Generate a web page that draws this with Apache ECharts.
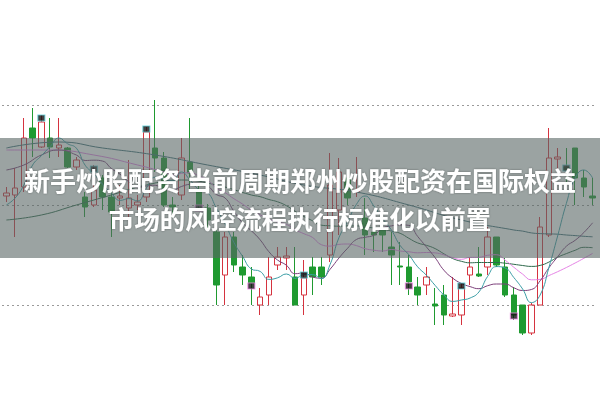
<!DOCTYPE html>
<html>
<head>
<meta charset="utf-8">
<script src="https://cdn.jsdelivr.net/npm/echarts@6/dist/echarts.min.js"></script>
<style>
html,body{margin:0;padding:0;background:#fff;}
#chart{width:600px;height:399px;}
</style>
</head>
<body>
<div id="chart"></div>
<script>
// ---- data (price units) ----
const categories = Array.from({length: 68}, (_, i) => 'D' + (i + 1));
// [open, close, low, high]
const candles = [
  [11.09,11.12,11.03,11.18],[11.10,11.17,10.68,11.37],[11.18,11.67,11.13,11.87],[11.77,11.67,11.48,11.97],
  [11.58,11.83,11.57,11.90],[11.67,11.58,11.47,11.87],[11.57,11.60,11.48,11.87],[11.57,11.38,11.37,11.58],
  [11.38,11.45,11.35,11.48],[11.08,10.98,10.88,11.13],[11.00,11.15,10.98,11.40],[11.27,11.08,10.95,11.30],
  [11.08,10.93,10.68,11.13],[11.07,11.09,11.00,11.20],[10.97,11.07,10.87,11.45],[11.00,11.03,10.95,11.10],
  [11.08,11.73,11.03,11.78],[11.57,11.47,11.33,12.05],[11.47,11.00,10.98,11.53],[11.00,10.98,10.87,11.08],
  [11.10,11.47,11.05,11.67],[11.43,11.32,11.13,11.87],[11.13,11.00,10.97,11.22],[10.97,10.85,10.75,11.01],
  [10.73,10.20,10.00,10.82],[10.30,10.68,10.00,10.73],[10.68,10.40,10.33,10.73],[10.38,10.30,10.20,10.50],
  [10.28,10.22,10.00,10.38],[10.00,10.08,9.90,10.17],[10.10,10.28,10.00,10.48],[10.40,10.48,10.35,10.58],
  [10.47,10.49,10.35,10.58],[10.28,10.00,10.00,10.58],[10.10,10.27,9.90,10.45],[10.38,10.28,10.10,10.48],
  [10.38,10.28,10.20,10.48],[10.50,11.20,10.43,11.52],[10.95,11.33,10.70,11.47],[11.27,11.07,11.00,11.30],
  [11.13,11.15,11.08,11.48],[10.87,10.70,10.50,11.07],[10.73,10.70,10.53,10.77],[10.75,10.70,10.53,10.80],
  [10.58,10.50,10.20,10.73],[10.39,10.38,10.20,10.63],[10.38,10.23,10.10,10.50],[10.18,10.10,10.00,10.28],
  [10.20,10.28,10.10,10.38],[10.01,9.99,9.80,10.17],[10.10,9.90,9.80,10.20],[9.89,9.91,9.88,10.28],
  [9.90,10.17,9.80,10.22],[10.30,10.38,10.20,10.48],[10.31,10.29,10.28,10.58],[10.38,10.68,10.30,10.78],
  [10.68,10.40,10.38,10.68],[10.38,10.10,10.08,10.47],[10.10,9.90,9.85,10.18],[10.00,9.72,9.70,10.00],
  [9.72,10.00,9.70,10.02],[10.00,10.78,10.00,10.88],[10.70,11.47,10.68,11.77],[11.46,11.48,11.35,11.57],
  [11.38,11.35,11.23,11.57],[11.57,11.27,11.00,11.57],[11.27,11.18,11.08,11.35],[11.09,11.07,11.00,11.27]
];
const ma5Lead  = {0:11.00, 1:11.07, 2:11.20, 3:11.40};
const ma10Lead = {0:11.35, 2:11.40, 4:11.50, 6:11.55, 8:11.50};
const ma20Lead = {0:11.55, 5:11.55, 10:11.50, 15:11.40, 18:11.33};
const ma30Lead = {0:10.85, 4:10.90, 8:11.00, 12:11.10, 16:11.20, 20:11.25, 24:11.20, 28:11.10};
const ma60Lead = {0:11.57, 6:11.63, 11:11.57, 17:11.50, 23:11.40, 29:11.30, 34:11.20, 40:11.13, 46:11.00, 52:10.85, 58:10.75};
// signal markers [index, price]
const topMarks = [[4,11.87],[10,11.36],[16,11.76],[34,10.30],[52,10.19],[64,11.37]];
const lowMarks = [[22,10.97],[28,10.19],[46,10.19],[58,9.89]];
const titleLines = ['新手炒股配资 当前周期郑州炒股配资在国际权益', '市场的风控流程执行标准化以前置'];

function ma(n, lead) {
  const out = [];
  for (let i = 0; i < candles.length; i++) {
    if (i >= n - 1) {
      let s = 0;
      for (let j = i - n + 1; j <= i; j++) s += candles[j][1];
      out.push(+(s / n).toFixed(3));
    } else {
      out.push(lead[i] !== undefined ? lead[i] : null);
    }
  }
  return out;
}

const chart = echarts.init(document.getElementById('chart'), null, {renderer: 'svg'});
const lineBase = {type: 'line', symbol: 'none', smooth: true, connectNulls: true, clip: false, silent: true, z: 3};
chart.setOption({
  animation: false,
  backgroundColor: '#ffffff',
  grid: {left: 2, right: 3, top: 105, height: 200},
  xAxis: {type: 'category', data: categories, boundaryGap: true,
    axisLine: {show: false}, axisTick: {show: false}, axisLabel: {show: false}, splitLine: {show: false}},
  yAxis: {type: 'value', min: 10, max: 12, interval: 1,
    axisLine: {show: false}, axisTick: {show: false}, axisLabel: {show: false},
    splitLine: {show: true, lineStyle: {color: '#9a9a9a', type: [2, 3], width: 1}}},
  series: [
    {type: 'candlestick', data: candles, barWidth: 6, clip: false, z: 2,
     itemStyle: {color: 'transparent', color0: '#1f9a30', borderColor: '#d5333f', borderColor0: '#1f9a30', borderWidth: 1}},
    Object.assign({name: 'MA60', data: ma(60, ma60Lead), lineStyle: {color: '#3f6e78', width: 1}}, lineBase),
    Object.assign({name: 'MA30', data: ma(30, ma30Lead), lineStyle: {color: '#2f6a4c', width: 1}}, lineBase),
    Object.assign({name: 'MA20', data: ma(20, ma20Lead), lineStyle: {color: '#e684e6', width: 1}}, lineBase),
    Object.assign({name: 'MA10', data: ma(10, ma10Lead), lineStyle: {color: '#7c3f7a', width: 1}}, lineBase),
    Object.assign({name: 'MA5', data: ma(5, ma5Lead), lineStyle: {color: '#3b9ea6', width: 1}}, lineBase),
    {type: 'scatter', data: topMarks, symbol: 'rect', symbolSize: [7, 6], clip: false, z: 4,
     itemStyle: {color: '#111', borderColor: '#5fd0d8', borderWidth: 1}},
    {type: 'scatter', data: lowMarks, symbol: 'rect', symbolSize: [7, 6], clip: false, z: 4,
     itemStyle: {color: '#111', borderColor: '#f08ae8', borderWidth: 1}}
  ],
  graphic: [
    {type: 'rect', z: 100, shape: {x: 0, y: 138, width: 600, height: 120},
     style: {fill: 'rgba(88,102,100,0.6)'}},
    {type: 'text', z: 101, x: 300, y: 179,
     style: {text: titleLines[0], fill: '#ffffff', font: 'bold 26px "Noto Sans CJK SC"',
       textAlign: 'center', textVerticalAlign: 'middle', textShadowColor: 'rgba(0,0,0,0.35)', textShadowBlur: 2}},
    {type: 'text', z: 101, x: 300, y: 217,
     style: {text: titleLines[1], fill: '#ffffff', font: 'bold 25.5px "Noto Sans CJK SC"',
       textAlign: 'center', textVerticalAlign: 'middle', textShadowColor: 'rgba(0,0,0,0.35)', textShadowBlur: 2}}
  ]
});
</script>
</body>
</html>
